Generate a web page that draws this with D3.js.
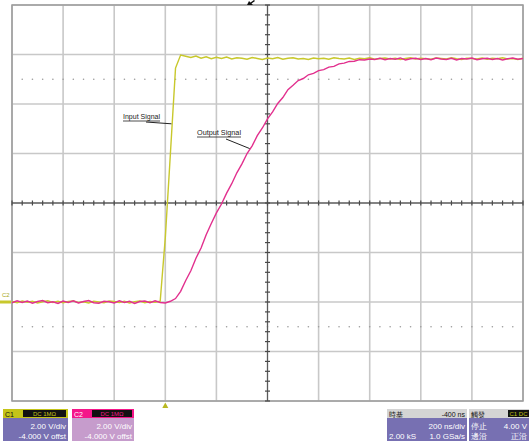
<!DOCTYPE html>
<html><head><meta charset="utf-8">
<script src="https://cdn.jsdelivr.net/npm/d3@7"></script>
<style>
body{margin:0;background:#fff}
svg{display:block}
text{font-family:"Liberation Sans",Arial,sans-serif}
</style>
</head><body>
<svg id="chart" width="529" height="441"></svg>
<script>
// Acquisition: one sample every 20 ns, first sample at -600 ns
const sampleStartNs = -600;
const sampleStepNs = 20;

// Channel 1 (input step), volts
const inputVolts = [
  0.02,-0.03,0.04,-0.01,0.03,-0.04,0.01,0.05,-0.02,0.03,
  -0.03,0.02,0.04,-0.02,0.01,-0.04,0.03,0.00,-0.03,0.04,
  0.02,-0.02,0.03,-0.04,0.01,0.04,-0.03,0.02,-0.01,0.03,
  2.6,6.0,9.45,9.98,9.93,9.88,9.94,9.85,9.91,9.83,9.89,
  9.84,9.9,9.82,9.87,9.85,9.81,9.88,9.84,9.8,9.86,
  9.83,9.88,9.81,9.85,9.87,9.82,9.84,9.8,9.86,9.83,
  9.85,9.81,9.87,9.84,9.82,9.86,9.8,9.85,9.83,9.87,
  9.81,9.84,9.86,9.82,9.85,9.8,9.84,9.87,9.82,9.85,
  9.83,9.81,9.86,9.84,9.82,9.87,9.83,9.8,9.85,9.84,
  9.82,9.86,9.81,9.85,9.83,9.87,9.82,9.84,9.8,9.85
];

// Channel 2 (filtered output), volts
const outputVolts = [
  -0.03,0.05,-0.02,0.04,-0.05,0.02,0.06,-0.03,0.01,-0.06,
  0.04,-0.02,0.05,-0.04,0.02,0.06,-0.03,-0.05,0.03,0.01,
  -0.04,0.05,-0.02,0.03,-0.06,0.02,0.04,-0.03,0.05,-0.02,
  -0.04,0.03,0.14,0.43,0.87,1.26,1.77,2.18,2.72,3.17,3.6,
  3.96,4.4,4.78,5.22,5.58,6.0,6.31,6.72,7.03,7.4,
  7.68,8.02,8.26,8.58,8.76,8.95,9.03,9.18,9.24,9.35,
  9.39,9.49,9.52,9.62,9.65,9.72,9.73,9.79,9.78,9.82,
  9.8,9.85,9.79,9.84,9.81,9.86,9.78,9.83,9.85,9.8,
  9.84,9.79,9.86,9.82,9.8,9.85,9.78,9.84,9.82,9.86,
  9.79,9.83,9.85,9.8,9.84,9.78,9.83,9.86,9.81,9.84
];

// Graticule: 10 time divisions (200 ns/div), 8 voltage divisions (2 V/div)
const timeDivTicks = [-600,-400,-200,0,200,400,600,800,1000,1200,1400];
const voltDivTicks = [-4,-2,0,2,4,6,8,10,12];
const dottedLevels = [9,-1];
const centerTime = 400, centerVolt = 4;

const traceLabels = ["Input Signal","Output Signal"];
const ch1Info = ["C1","DC 1MΩ","2.00 V/div","-4.000 V offst"];
const ch2Info = ["C2","DC 1MΩ","2.00 V/div","-4.000 V offst"];
const timebaseInfo = ["時基","-400 ns","200 ns/div","2.00 kS","1.0 GSa/s"];
const triggerInfo = ["觸發","C1 DC","停止","4.00 V","邊沿","正沿"];

const svg = d3.select("#chart");
const x = d3.scaleLinear().domain([-600,1400]).range([12,523]);
const y = d3.scaleLinear().domain([-4,12]).range([401,5]);

const gridColor = "#c8c8c8";
const grid = svg.append("g");
// grid lines
grid.selectAll("line.v").data(timeDivTicks.filter(t=>t!==centerTime)).join("line")
  .attr("x1",d=>x(d)).attr("x2",d=>x(d)).attr("y1",y(12)).attr("y2",y(-4))
  .attr("stroke",gridColor).attr("stroke-width",1.6);
grid.selectAll("line.h").data(voltDivTicks.filter(v=>v!==centerVolt)).join("line")
  .attr("y1",d=>y(d)).attr("y2",d=>y(d)).attr("x1",x(-600)).attr("x2",x(1400))
  .attr("stroke",gridColor).attr("stroke-width",1.6);
// border
grid.append("rect").attr("x",x(-600)).attr("y",y(12))
  .attr("width",x(1400)-x(-600)).attr("height",y(-4)-y(12))
  .attr("fill","none").attr("stroke","#9c9c9c").attr("stroke-width",1.5);

// dotted reference rows
const minorTimes = d3.range(-600,1400.1,40);
const minorVolts = d3.range(-4,12.01,0.4);
dottedLevels.forEach(lv=>{
  grid.selectAll(null).data(minorTimes.slice(1,-1)).join("circle")
    .attr("cx",d=>x(d)).attr("cy",y(lv)).attr("r",0.8).attr("fill","#9a9a9a");
});

// centre axes with minor ticks
grid.append("line").attr("x1",x(centerTime)).attr("x2",x(centerTime))
  .attr("y1",y(12)).attr("y2",y(-4)).attr("stroke","#5a5a5a").attr("stroke-width",1.3);
grid.append("line").attr("y1",y(centerVolt)).attr("y2",y(centerVolt))
  .attr("x1",x(-600)).attr("x2",x(1400)).attr("stroke","#5a5a5a").attr("stroke-width",1.3);
grid.selectAll(null).data(minorTimes).join("line")
  .attr("x1",d=>x(d)).attr("x2",d=>x(d)).attr("y1",y(centerVolt)-2.5).attr("y2",y(centerVolt)+2.5)
  .attr("stroke","#4a4a4a").attr("stroke-width",1.2);
grid.selectAll(null).data(minorVolts).join("line")
  .attr("y1",d=>y(d)).attr("y2",d=>y(d)).attr("x1",x(centerTime)-2.5).attr("x2",x(centerTime)+2.5)
  .attr("stroke","#4a4a4a").attr("stroke-width",1.2);

// traces
const line = d3.line().x((d,i)=>x(sampleStartNs+i*sampleStepNs)).y(d=>y(d));
svg.append("path").datum(inputVolts).attr("d",line)
  .attr("fill","none").attr("stroke","#c8c82c").attr("stroke-width",1.4);
svg.append("path").datum(outputVolts).attr("d",line)
  .attr("fill","none").attr("stroke","#e2308e").attr("stroke-width",1.4);

// trace annotations
const ann = svg.append("g").attr("fill","#222").attr("font-size",7.5);
ann.append("text").attr("x",123).attr("y",119).attr("textLength",37)
  .attr("lengthAdjust","spacingAndGlyphs").text(traceLabels[0]);
ann.append("line").attr("x1",123).attr("x2",160).attr("y1",121).attr("y2",121)
  .attr("stroke","#222").attr("stroke-width",0.8);
ann.append("line").attr("x1",146).attr("y1",122).attr("x2",x(24)).attr("y2",y(7.2))
  .attr("stroke","#222").attr("stroke-width",1);
ann.append("text").attr("x",197).attr("y",135).attr("textLength",44)
  .attr("lengthAdjust","spacingAndGlyphs").text(traceLabels[1]);
ann.append("line").attr("x1",197).attr("x2",241).attr("y1",137).attr("y2",137)
  .attr("stroke","#222").attr("stroke-width",0.8);
ann.append("line").attr("x1",226).attr("y1",139).attr("x2",x(330)).attr("y2",y(6.2))
  .attr("stroke","#222").attr("stroke-width",1);

// markers: delay marker at top, trigger point below, ground reference at left
svg.append("path").attr("d","M247,5 L249,1 L250.5,2.5 L254,0 L255,1 L251.5,3.5 L253,5 Z").attr("fill","#111");
svg.append("path").attr("d",`M${x(0)-3},408 L${x(0)},402.5 L${x(0)+3},408 Z`).attr("fill","#b8b820");
svg.append("rect").attr("x",0).attr("y",y(0)-1.5).attr("width",11).attr("height",3).attr("fill","#c8c82c");
svg.append("text").attr("x",2).attr("y",y(0)-5).attr("font-size",6).attr("fill","#a8a820").text("C2");

// channel / timebase info boxes
function infoBox(x0,w,headBg,bodyBg,headText,headColor){
  const g = svg.append("g");
  g.append("rect").attr("x",x0).attr("y",409).attr("width",w).attr("height",32).attr("fill",bodyBg);
  g.append("rect").attr("x",x0).attr("y",409).attr("width",w).attr("height",9).attr("fill",headBg);
  g.append("text").attr("x",x0+2).attr("y",416.5).attr("font-size",7).attr("fill",headColor).text(headText);
  return g;
}
function blackTag(g,x0,w,label,color){
  g.append("rect").attr("x",x0).attr("y",410).attr("width",w).attr("height",7).attr("fill","#111");
  g.append("text").attr("x",x0+w/2).attr("y",416).attr("text-anchor","middle").attr("font-size",6)
    .attr("fill",color).text(label);
}
const b1 = infoBox(3,65,"#c4c418","#7770b2",ch1Info[0],"#111");
blackTag(b1,23,43,ch1Info[1],"#c4c418");
b1.append("text").attr("x",66).attr("y",429).attr("text-anchor","end").attr("font-size",8).attr("fill","#fff").text(ch1Info[2]);
b1.append("text").attr("x",66).attr("y",439).attr("text-anchor","end").attr("font-size",8).attr("fill","#fff").text(ch1Info[3]);

const b2 = infoBox(72,62,"#f4168a","#c69ccc",ch2Info[0],"#fff");
blackTag(b2,92,40,ch2Info[1],"#f4168a");
b2.append("text").attr("x",132).attr("y",429).attr("text-anchor","end").attr("font-size",8).attr("fill","#fff").text(ch2Info[2]);
b2.append("text").attr("x",132).attr("y",439).attr("text-anchor","end").attr("font-size",8).attr("fill","#fff").text(ch2Info[3]);

const b3 = infoBox(387,80,"#d4d4d4","#7770b2",timebaseInfo[0],"#111");
b3.append("text").attr("x",465).attr("y",416.5).attr("text-anchor","end").attr("font-size",7).attr("fill","#111").text(timebaseInfo[1]);
b3.append("text").attr("x",465).attr("y",429).attr("text-anchor","end").attr("font-size",8).attr("fill","#fff").text(timebaseInfo[2]);
b3.append("text").attr("x",389).attr("y",439).attr("font-size",8).attr("fill","#fff").text(timebaseInfo[3]);
b3.append("text").attr("x",465).attr("y",439).attr("text-anchor","end").attr("font-size",8).attr("fill","#fff").text(timebaseInfo[4]);

const b4 = infoBox(469,62,"#d4d4d4","#7770b2",triggerInfo[0],"#111");
blackTag(b4,508,21,triggerInfo[1],"#c4c418");
b4.append("text").attr("x",471).attr("y",429).attr("font-size",8).attr("fill","#fff").text(triggerInfo[2]);
b4.append("text").attr("x",527).attr("y",429).attr("text-anchor","end").attr("font-size",8).attr("fill","#fff").text(triggerInfo[3]);
b4.append("text").attr("x",471).attr("y",439).attr("font-size",8).attr("fill","#fff").text(triggerInfo[4]);
b4.append("text").attr("x",527).attr("y",439).attr("text-anchor","end").attr("font-size",8).attr("fill","#fff").text(triggerInfo[5]);
</script>
</body></html>
